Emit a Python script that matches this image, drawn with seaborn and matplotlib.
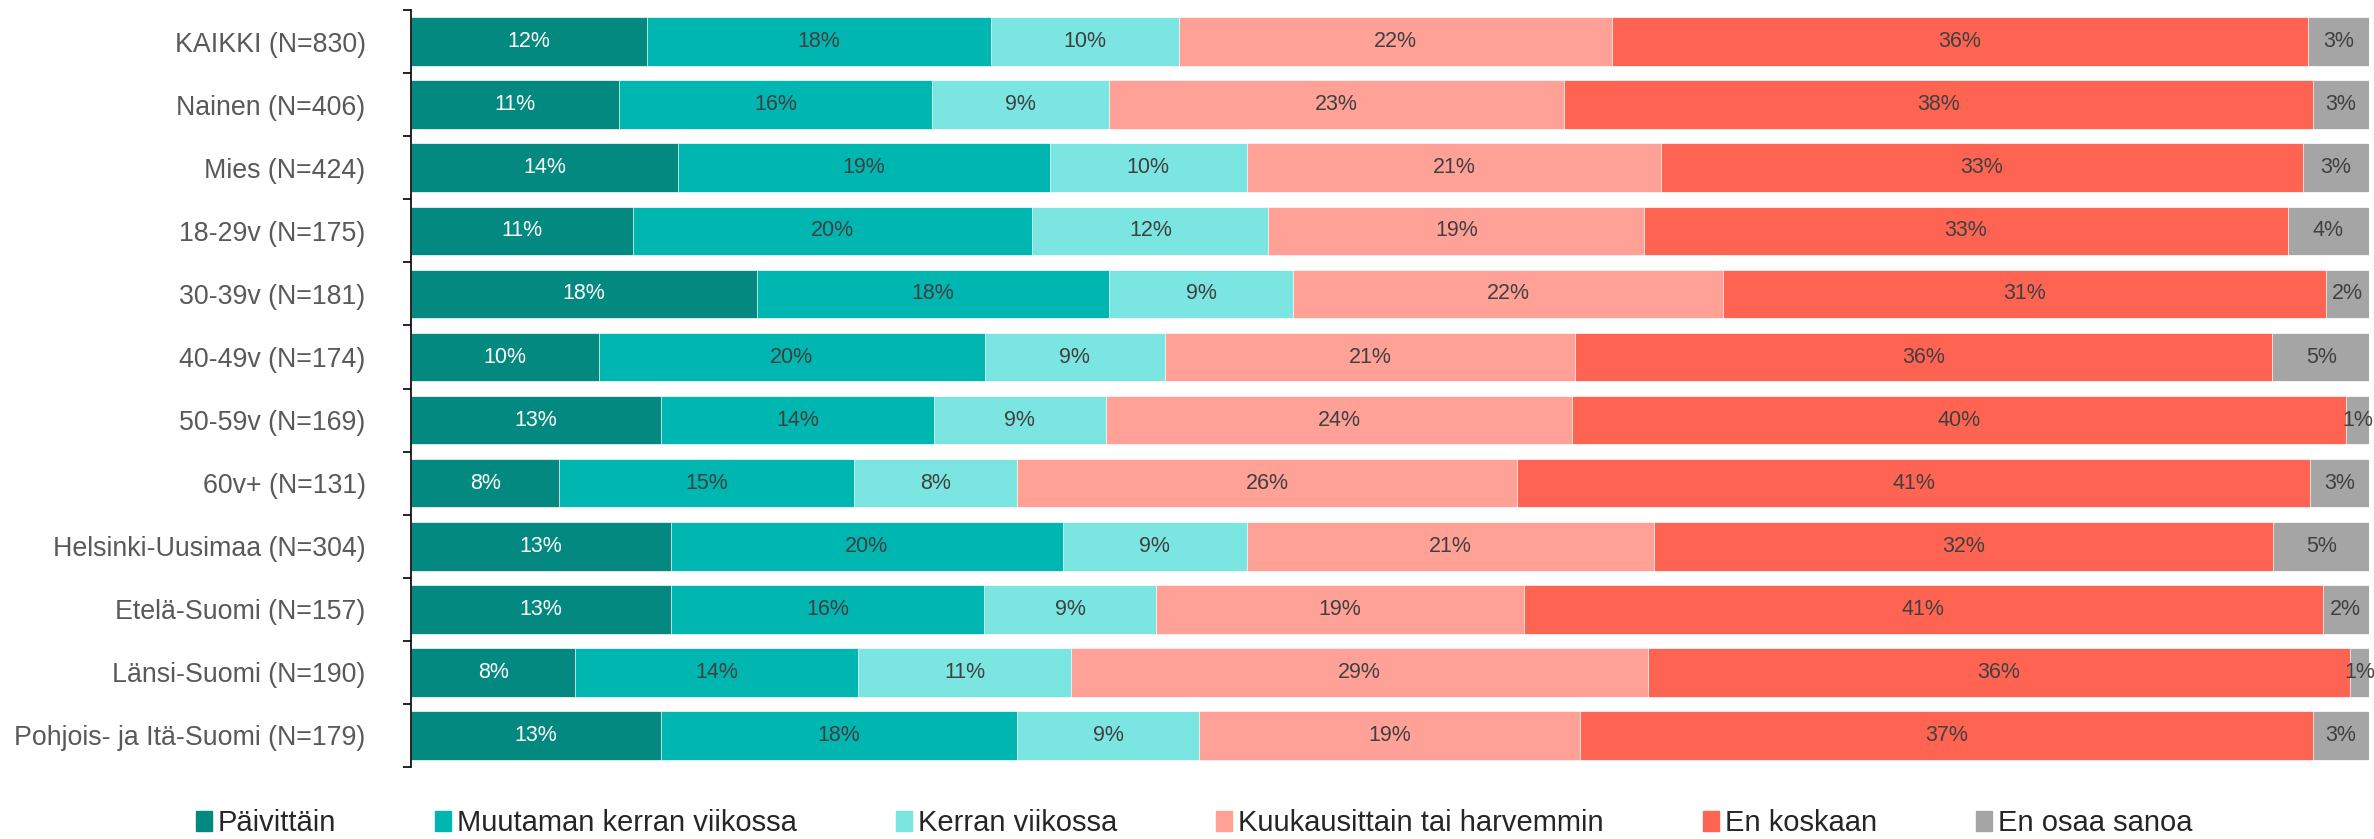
import matplotlib

matplotlib.use("Agg")

import matplotlib.pyplot as plt
import matplotlib.patches as mpatches
import numpy as np
import pandas as pd
import seaborn as sns

# Groups (top to bottom) and answer shares in percent
groups = [
    "KAIKKI (N=830)",
    "Nainen (N=406)",
    "Mies (N=424)",
    "18-29v (N=175)",
    "30-39v (N=181)",
    "40-49v (N=174)",
    "50-59v (N=169)",
    "60v+ (N=131)",
    "Helsinki-Uusimaa (N=304)",
    "Etelä-Suomi (N=157)",
    "Länsi-Suomi (N=190)",
    "Pohjois- ja Itä-Suomi (N=179)",
]
answers = [
    "Päivittäin",
    "Muutaman kerran viikossa",
    "Kerran viikossa",
    "Kuukausittain tai harvemmin",
    "En koskaan",
    "En osaa sanoa",
]
paivittain = [12.03, 10.6, 13.6, 11.31, 17.64, 9.58, 12.75, 7.54, 13.25, 13.25, 8.36, 12.75]
muutaman = [17.57, 15.98, 19.0, 20.41, 18.0, 19.71, 13.93, 15.06, 20.02, 16.0, 14.45, 18.17]
kerran = [9.61, 9.07, 10.09, 12.06, 9.39, 9.2, 8.78, 8.32, 9.4, 8.79, 10.9, 9.33]
kuukausittain = [22.11, 23.23, 21.13, 19.19, 21.98, 20.94, 23.84, 25.57, 20.8, 18.77, 29.45, 19.47]
en_koskaan = [35.55, 38.26, 32.8, 32.89, 30.79, 35.6, 39.54, 40.52, 31.6, 40.83, 35.85, 37.42]
en_osaa = [3.12, 2.86, 3.37, 4.14, 2.2, 5.06, 1.15, 2.99, 5.01, 2.35, 0.99, 2.86]

colors = ["#03897F", "#00B6B1", "#7BE5E1", "#FFA197", "#FF6452", "#A5A5A5"]
label_colors = ["white", "#404040", "#404040", "#404040", "#404040", "#404040"]

df = pd.DataFrame(
    dict(zip(answers, [paivittain, muutaman, kerran, kuukausittain, en_koskaan, en_osaa])),
    index=groups,
)
cum = df.cumsum(axis=1)

sns.set_style("white")
plt.rcParams["font.family"] = ["Liberation Sans", "DejaVu Sans"]

fig = plt.figure(figsize=(23.74, 8.39), dpi=100)
ax = fig.add_axes([0.1733, 0.0858, 0.8246, 0.9022])

# Stacked bars: draw cumulative totals from the last answer to the first
for answer, color in reversed(list(zip(answers, colors))):
    sns.barplot(
        x=cum[answer].values,
        y=groups,
        orient="y",
        color=color,
        saturation=1,
        width=0.77,
        edgecolor="white",
        linewidth=0.5,
        ax=ax,
    )

for col, answer in enumerate(answers):
    for row, group in enumerate(groups):
        value = df.loc[group, answer]
        ax.text(
            cum.loc[group, answer] - value / 2,
            row,
            f"{value:.0f}%",
            ha="center",
            va="center",
            fontsize=15.5,
            color=label_colors[col],
        )

ax.set_xlim(0, 100)
ax.set_ylim(len(groups) - 0.5, -0.5)
ax.set_xlabel("")
ax.set_ylabel("")
ax.set_xticks([])
ax.set_yticks(np.arange(-0.5, len(groups)), minor=True)
ax.tick_params(axis="y", which="major", length=0, pad=33, labelsize=19.3, labelcolor="#595959")
ax.tick_params(axis="y", which="minor", length=5.5, width=1.2, color="black", left=True)
for side in ["top", "right", "bottom"]:
    ax.spines[side].set_visible(False)
ax.spines["left"].set_color("black")
ax.spines["left"].set_linewidth(1.2)

handles = [mpatches.Patch(color=c, label=a) for a, c in zip(answers, colors)]
fig.legend(
    handles=handles,
    loc="lower center",
    bbox_to_anchor=(0.503, -0.029),
    ncol=6,
    frameon=False,
    fontsize=21,
    handlelength=0.55,
    handleheight=0.65,
    handletextpad=0.2,
    columnspacing=3.4,
)

fig.savefig("out.png", dpi=100)
plt.close(fig)
